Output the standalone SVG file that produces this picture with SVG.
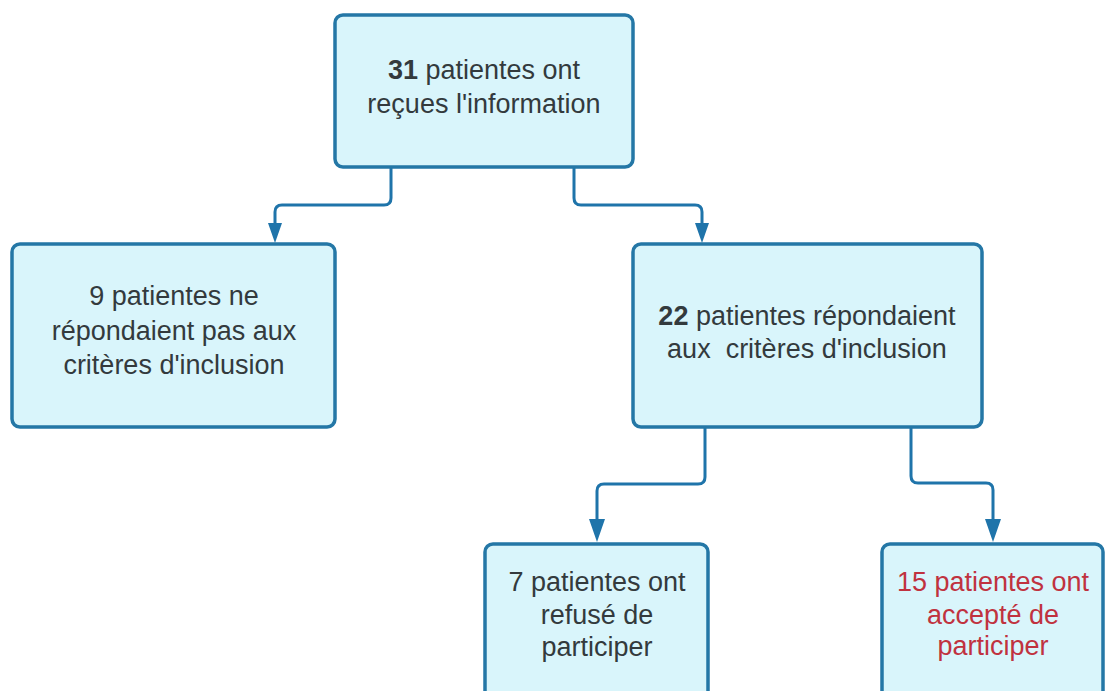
<svg xmlns="http://www.w3.org/2000/svg" width="1109" height="691" viewBox="0 0 1109 691">
<defs>
<style>
.box{fill:#d9f5fb;stroke:#2477a6;stroke-width:3.5}
.t{font-family:"Liberation Sans",Arial,sans-serif;font-size:27px;fill:#333a3d;text-anchor:middle}
.red{fill:#c0323f}
.b{font-weight:bold}
.c{fill:none;stroke:#1f74aa;stroke-width:3}
</style>
<marker id="ah" viewBox="0 0 14 20" refX="7" refY="20" markerWidth="14" markerHeight="20" markerUnits="userSpaceOnUse" orient="auto-start-reverse">
<path d="M0,0 L14,0 L7,20 Z" fill="#1f74aa"/>
</marker>
</defs>
<rect width="1109" height="691" fill="#ffffff"/>
<g id="connectors">
<path class="c" d="M391,167 V198 Q391,205 384,205 H282 Q275,205 275,212 V223"/>
<path class="c" d="M574,167 V198 Q574,205 581,205 H695 Q702,205 702,212 V223"/>
<path class="c" d="M705,427 V477 Q705,484 698,484 H604 Q597,484 597,491 V520"/>
<path class="c" d="M911,427 V476 Q911,483 918,483 H986 Q993,483 993,490 V520"/>
<path d="M268,223 L282,223 L275,243 Z" fill="#1f74aa"/>
<path d="M695,223 L709,223 L702,243 Z" fill="#1f74aa"/>
<path d="M589,519 L605,519 L597,542 Z" fill="#1f74aa"/>
<path d="M985,519 L1001,519 L993,542 Z" fill="#1f74aa"/>
</g>
<g id="n31">
<rect class="box" x="335" y="15" width="298" height="152" rx="8"/>
<text class="t" x="484" y="79"><tspan class="b">31</tspan> patientes ont</text>
<text class="t" x="484" y="113">reçues l'information</text>
</g>
<g id="n9">
<rect class="box" x="12" y="244" width="323" height="183" rx="8"/>
<text class="t" x="174" y="305">9 patientes ne</text>
<text class="t" x="174" y="340">répondaient pas aux</text>
<text class="t" x="174" y="374">critères d'inclusion</text>
</g>
<g id="n22">
<rect class="box" x="633" y="244" width="349" height="183" rx="8"/>
<text class="t" x="807" y="325"><tspan class="b">22</tspan> patientes répondaient</text>
<text class="t" x="807" y="358" xml:space="preserve">aux  critères d'inclusion</text>
</g>
<g id="n7">
<rect class="box" x="485" y="544" width="223" height="160" rx="8"/>
<text class="t" x="597" y="591">7 patientes ont</text>
<text class="t" x="597" y="624">refusé de</text>
<text class="t" x="597" y="656">participer</text>
</g>
<g id="n15">
<rect class="box" x="882" y="544" width="221" height="160" rx="8"/>
<text class="t red" x="993" y="591">15 patientes ont</text>
<text class="t red" x="993" y="624">accepté de</text>
<text class="t red" x="993" y="655">participer</text>
</g>
</svg>
